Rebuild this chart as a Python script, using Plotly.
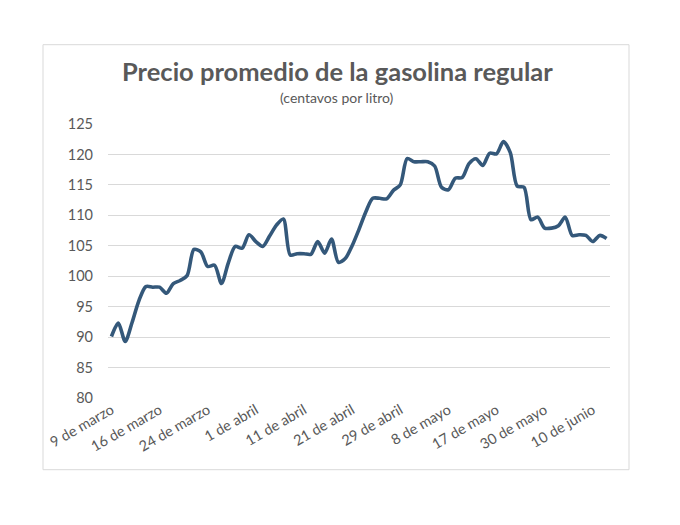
import plotly.graph_objects as go

# Price values (cents per litre), one per category (73 points)
precios = [
    90.1, 92.3, 89.3, 92.4, 96.0, 98.3, 98.2, 98.2, 97.2, 98.8,
    99.3, 100.1, 104.4, 104.0, 101.6, 101.8, 98.8, 102.2, 104.9, 104.6,
    106.8, 105.7, 104.9, 106.6, 108.4, 109.4, 103.5, 103.7, 103.7, 103.6,
    105.7, 103.8, 106.1, 102.3, 102.9, 105.0, 107.7, 110.6, 112.8, 112.8,
    112.7, 114.1, 115.0, 119.3, 118.8, 118.8, 118.8, 118.1, 114.6, 114.2,
    116.1, 116.2, 118.5, 119.3, 118.2, 120.2, 120.1, 122.1, 120.3, 114.8,
    114.6, 109.3, 109.7, 107.9, 107.9, 108.3, 109.7, 106.7, 106.8, 106.7,
    105.7, 106.7, 106.2,
]
etiquetas = [
    "9 de marzo", "16 de marzo", "24 de marzo", "1 de abril", "11 de abril",
    "21 de abril", "29 de abril", "8 de mayo", "17 de mayo", "30 de mayo",
    "10 de junio",
]
posiciones_etiquetas = [0, 7, 14, 21, 28, 35, 42, 49, 56, 63, 70]
y_ticks = [80, 85, 90, 95, 100, 105, 110, 115, 120, 125]

x = list(range(len(precios)))

W, H = 680, 525
L, R, T, B = 108, 610, 124.3, 398.3

fig = go.Figure()
fig.add_trace(go.Scatter(
    x=x, y=precios, mode="lines",
    line=dict(color="#34587a", width=3.6, shape="spline", smoothing=0.8),
    hoverinfo="skip", showlegend=False,
))

def px(X):
    return (X - L) / (R - L)

def py(Y):
    return (B - Y) / (B - T)

fig.update_layout(
    width=W, height=H,
    margin=dict(l=L, r=W - R, t=T, b=H - B, pad=0),
    paper_bgcolor="white", plot_bgcolor="white",
    font=dict(family="Lato, Open Sans, sans-serif", color="#595959"),
    xaxis=dict(
        range=[-0.5, len(precios) - 0.5],
        tickmode="array", tickvals=posiciones_etiquetas, ticktext=etiquetas,
        tickangle=-30, tickfont=dict(size=14.5, color="#595959"),
        showgrid=False, zeroline=False, showline=False, ticks="",
    ),
    yaxis=dict(
        range=[80, 125], tickmode="array", tickvals=y_ticks,
        tickfont=dict(size=14.5, color="#595959"),
        showgrid=True, gridcolor="#d9d9d9", gridwidth=1,
        zeroline=False, showline=False, ticks="", ticklabelstandoff=14,
    ),
    shapes=[dict(
        type="rect", xref="paper", yref="paper",
        x0=px(43), x1=px(629), y0=py(470), y1=py(45),
        line=dict(color="#d9d9d9", width=1), fillcolor="rgba(0,0,0,0)",
        layer="below",
    )],
    annotations=[
        dict(text="<b>Precio promedio de la gasolina regular</b>",
             xref="paper", yref="paper", x=px(337), y=py(71),
             xanchor="center", yanchor="middle", showarrow=False,
             font=dict(size=25.5, color="#595959", family="Lato, sans-serif")),
        dict(text="(centavos por litro)",
             xref="paper", yref="paper", x=px(337), y=py(98),
             xanchor="center", yanchor="middle", showarrow=False,
             font=dict(size=14, color="#595959", family="Lato, sans-serif")),
    ],
)

fig.write_html("out.html", config={"displayModeBar": False},
               post_script="document.body.style.margin='0';")
